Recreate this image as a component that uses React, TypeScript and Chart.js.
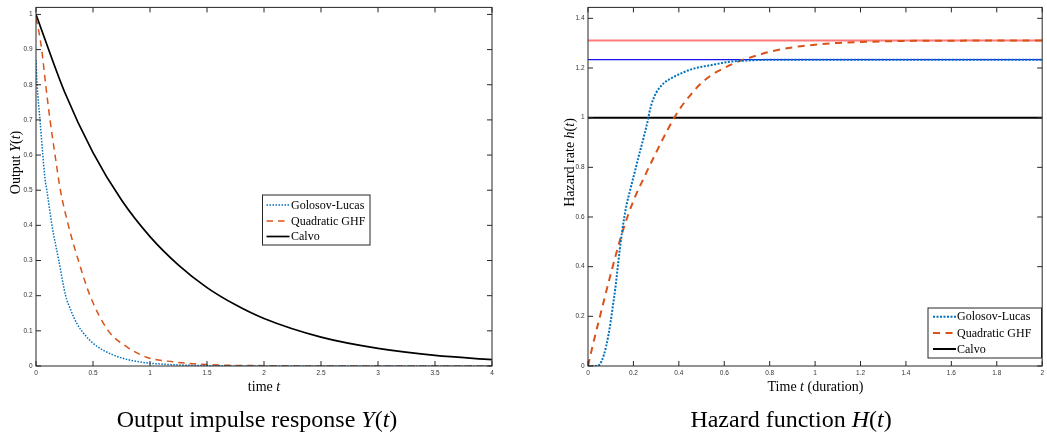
import React, { useEffect, useRef } from 'react';
import { Chart, registerables } from 'chart.js';
Chart.register(...registerables);

// ---------- DATA ----------
// Left panel: output impulse response Y(t)
const irTimeGL = [0, 0.01, 0.035, 0.06, 0.08, 0.095, 0.14, 0.2, 0.26, 0.3, 0.36, 0.43, 0.5, 0.6, 0.75, 0.9, 1.0, 1.25, 1.5, 2, 3, 4];
const irGL = [0.87, 0.8, 0.7, 0.6, 0.53, 0.5, 0.4, 0.3, 0.2, 0.163, 0.12, 0.088, 0.065, 0.043, 0.023, 0.012, 0.008, 0.003, 0.001, 0, 0, 0];
const irTimeGHF = [0, 0.02, 0.05, 0.085, 0.123, 0.167, 0.214, 0.284, 0.372, 0.474, 0.635, 0.8, 0.97, 1.2, 1.5, 2, 3, 4];
const irGHF = [0.99, 0.96, 0.9, 0.8, 0.7, 0.6, 0.5, 0.4, 0.3, 0.2, 0.1, 0.054, 0.025, 0.012, 0.004, 0.001, 0, 0];
const irTimeCalvo = [0, 0.25, 0.5, 0.75, 1, 1.25, 1.5, 1.75, 2, 2.5, 3, 3.5, 4];
const irCalvo = [1, 0.78, 0.607, 0.472, 0.368, 0.287, 0.223, 0.174, 0.135, 0.082, 0.05, 0.03, 0.018];

// Right panel: hazard rate h(t)
const hzTimeGL = [0, 0.04, 0.05, 0.06, 0.07, 0.08, 0.09, 0.1, 0.11, 0.12, 0.13, 0.14, 0.15, 0.16, 0.17, 0.186, 0.2, 0.222, 0.245, 0.266, 0.27, 0.28, 0.29, 0.3, 0.315, 0.335, 0.36, 0.39, 0.46, 0.55, 0.625, 0.7, 0.8, 1, 1.5, 2];
const hzGL = [0, 0, 0.005, 0.02, 0.045, 0.08, 0.125, 0.18, 0.245, 0.31, 0.39, 0.47, 0.54, 0.6, 0.65, 0.71, 0.76, 0.84, 0.92, 1.0, 1.02, 1.055, 1.08, 1.1, 1.12, 1.14, 1.155, 1.17, 1.196, 1.213, 1.225, 1.23, 1.233, 1.2336, 1.2336, 1.2336];
const hzTimeGHF = [0, 0.02, 0.05, 0.1, 0.15, 0.2, 0.25, 0.3, 0.35, 0.4, 0.45, 0.5, 0.55, 0.6, 0.65, 0.7, 0.8, 0.9, 1.0, 1.1, 1.25, 1.4, 1.6, 2];
const hzGHF = [0, 0.08, 0.19, 0.37, 0.535, 0.665, 0.765, 0.86, 0.95, 1.03, 1.09, 1.14, 1.175, 1.2, 1.222, 1.238, 1.265, 1.283, 1.294, 1.301, 1.306, 1.309, 1.31, 1.311];
const hzTimeCalvo = [0, 2];
const hzCalvo = [1, 1];
const hzLimitTime = [0, 2];
const hzLimitGHF = [1.311, 1.311];
const hzLimitGL = [1.2336, 1.2336];

// Ticks
const leftXTicks = [0, 0.5, 1, 1.5, 2, 2.5, 3, 3.5, 4];
const leftXTickLabels = ['0', '0.5', '1', '1.5', '2', '2.5', '3', '3.5', '4'];
const leftYTicks = [0, 0.1, 0.2, 0.3, 0.4, 0.5, 0.6, 0.7, 0.8, 0.9, 1];
const leftYTickLabels = ['0', '0.1', '0.2', '0.3', '0.4', '0.5', '0.6', '0.7', '0.8', '0.9', '1'];
const rightXTicks = [0, 0.2, 0.4, 0.6, 0.8, 1, 1.2, 1.4, 1.6, 1.8, 2];
const rightXTickLabels = ['0', '0.2', '0.4', '0.6', '0.8', '1', '1.2', '1.4', '1.6', '1.8', '2'];
const rightYTicks = [0, 0.2, 0.4, 0.6, 0.8, 1, 1.2, 1.4];
const rightYTickLabels = ['0', '0.2', '0.4', '0.6', '0.8', '1', '1.2', '1.4'];

const seriesNames = ['Golosov-Lucas', 'Quadratic GHF', 'Calvo'];

// ---------- STYLE ----------
const W = 1047;
const H = 435;
const BLUE = '#0072BD';
const ORANGE = '#D95319';
const BLACK = '#000000';
const AXIS = '#262626';
const SERIF = '"Liberation Serif", "Times New Roman", serif';
const SANS = '"Liberation Sans", Arial, sans-serif';

type Seg = [string, boolean];

function drawSegs(ctx: CanvasRenderingContext2D, segs: Seg[], size: number, cx: number, baseY: number) {
  let total = 0;
  const widths = segs.map(([t, it]) => {
    ctx.font = `${it ? 'italic ' : ''}${size}px ${SERIF}`;
    const w = ctx.measureText(t).width;
    total += w;
    return w;
  });
  let x = cx - total / 2;
  ctx.textAlign = 'left';
  ctx.textBaseline = 'alphabetic';
  segs.forEach(([t, it], i) => {
    ctx.font = `${it ? 'italic ' : ''}${size}px ${SERIF}`;
    ctx.fillText(t, x, baseY);
    x += widths[i];
  });
}

interface Deco {
  xTitle: Seg[];
  xTitleCx: number;
  yTitle: Seg[];
  yTitleX: number;
  yTitleCy: number;
  title: Seg[];
  titleCx: number;
  legend: { x: number; y: number; w: number; h: number; lx0: number; lx1: number; tx: number; rows: number[]; lw: number[]; dash: number[][] };
  tickLen: number;
}

function makeDecoPlugin(d: Deco) {
  return {
    id: 'deco',
    afterDatasetsDraw(chart: any) {
      const ctx: CanvasRenderingContext2D = chart.ctx;
      const a = chart.chartArea;
      const xs = chart.scales.x;
      const ys = chart.scales.y;
      ctx.save();
      // box
      ctx.strokeStyle = AXIS;
      ctx.lineWidth = 1;
      ctx.setLineDash([]);
      ctx.strokeRect(a.left, a.top, a.right - a.left, a.bottom - a.top);
      // inward ticks
      ctx.beginPath();
      xs.ticks.forEach((t: any) => {
        const px = xs.getPixelForValue(t.value);
        ctx.moveTo(px, a.bottom);
        ctx.lineTo(px, a.bottom - d.tickLen);
        ctx.moveTo(px, a.top);
        ctx.lineTo(px, a.top + d.tickLen);
      });
      ys.ticks.forEach((t: any) => {
        const py = ys.getPixelForValue(t.value);
        ctx.moveTo(a.left, py);
        ctx.lineTo(a.left + d.tickLen, py);
        ctx.moveTo(a.right, py);
        ctx.lineTo(a.right - d.tickLen, py);
      });
      ctx.stroke();

      // legend
      const L = d.legend;
      ctx.fillStyle = '#ffffff';
      ctx.fillRect(L.x, L.y, L.w, L.h);
      ctx.strokeStyle = AXIS;
      ctx.lineWidth = 1;
      ctx.strokeRect(L.x, L.y, L.w, L.h);
      const cols = [BLUE, ORANGE, BLACK];
      seriesNames.forEach((name, i) => {
        ctx.beginPath();
        ctx.strokeStyle = cols[i];
        ctx.lineWidth = L.lw[i];
        ctx.setLineDash(L.dash[i]);
        ctx.moveTo(L.lx0, L.rows[i]);
        ctx.lineTo(L.lx1, L.rows[i]);
        ctx.stroke();
        ctx.setLineDash([]);
        ctx.fillStyle = '#000';
        ctx.font = `12px ${SERIF}`;
        ctx.textAlign = 'left';
        ctx.textBaseline = 'middle';
        ctx.fillText(name, L.tx, L.rows[i] + 0.5);
      });

      // axis titles
      ctx.fillStyle = '#000';
      drawSegs(ctx, d.xTitle, 14, d.xTitleCx, 390.5);
      ctx.save();
      ctx.translate(d.yTitleX, d.yTitleCy);
      ctx.rotate(-Math.PI / 2);
      drawSegs(ctx, d.yTitle, 14, 0, 0);
      ctx.restore();
      // panel caption
      drawSegs(ctx, d.title, 24, d.titleCx, 426.5);
      ctx.restore();
    },
  };
}

const pts = (xs: number[], ys: number[]) => xs.map((x, i) => ({ x, y: ys[i] }));

function axisCfg(min: number, max: number, ticks: number[], labels: string[], isX: boolean, size: number) {
  return {
    type: 'linear',
    min,
    max,
    afterBuildTicks: (s: any) => {
      s.ticks = ticks.map((v) => ({ value: v }));
    },
    afterFit: (s: any) => {
      if (isX) s.height = size;
      else s.width = size;
    },
    ticks: {
      callback: (_v: any, i: number) => labels[i],
      font: { family: SANS, size: 6.5 },
      color: '#333',
      padding: isX ? 3 : 3.5,
      maxRotation: 0,
      autoSkip: false,
      includeBounds: false,
    },
    grid: { display: false, drawTicks: false },
    border: { display: false },
  };
}

const lineDs = (label: string, data: any[], color: string, width: number, dash: number[]) => ({
  label,
  data,
  borderColor: color,
  backgroundColor: color,
  borderWidth: width,
  borderDash: dash,
  pointRadius: 0,
  fill: false,
  cubicInterpolationMode: 'monotone',
});

export default function App() {
  const leftRef = useRef<HTMLCanvasElement>(null);
  const rightRef = useRef<HTMLCanvasElement>(null);

  useEffect(() => {
    const left = new Chart(leftRef.current as HTMLCanvasElement, {
      type: 'line',
      data: {
        datasets: [
          lineDs(seriesNames[0], pts(irTimeGL, irGL), BLUE, 1.5, [1.5, 1.5]),
          lineDs(seriesNames[1], pts(irTimeGHF, irGHF), ORANGE, 1.5, [6.5, 5]),
          lineDs(seriesNames[2], pts(irTimeCalvo, irCalvo), BLACK, 1.7, []),
        ] as any,
      },
      options: {
        responsive: false,
        animation: false,
        layout: { padding: { left: 0, right: W - 492, top: 5, bottom: 0 } },
        plugins: { legend: { display: false }, tooltip: { enabled: false }, title: { display: false } },
        scales: {
          x: axisCfg(0, 4, leftXTicks, leftXTickLabels, true, H - 366) as any,
          y: axisCfg(0, 1.02, leftYTicks, leftYTickLabels, false, 36) as any,
        },
      },
      plugins: [
        makeDecoPlugin({
          xTitle: [['time ', false], ['t', true]],
          xTitleCx: 264,
          yTitle: [['Output ', false], ['Y', true], ['(', false], ['t', true], [')', false]],
          yTitleX: 19.5,
          yTitleCy: 162.5,
          title: [['Output impulse response ', false], ['Y', true], ['(', false], ['t', true], [')', false]],
          titleCx: 257,
          legend: { x: 262.5, y: 195, w: 107.5, h: 50, lx0: 266.5, lx1: 289.5, tx: 291, rows: [205, 221, 236.5], lw: [1.5, 1.5, 1.7], dash: [[1.5, 1.5], [6.5, 5], []] },
          tickLen: 5,
        }),
      ],
    });

    const right = new Chart(rightRef.current as HTMLCanvasElement, {
      type: 'line',
      data: {
        datasets: [
          lineDs(seriesNames[0], pts(hzTimeGL, hzGL), BLUE, 2, [2, 1.5]),
          lineDs(seriesNames[1], pts(hzTimeGHF, hzGHF), ORANGE, 2, [7, 5.5]),
          lineDs(seriesNames[2], pts(hzTimeCalvo, hzCalvo), BLACK, 2, []),
          lineDs('GHF limit', pts(hzLimitTime, hzLimitGHF), '#FF7A7A', 2, []),
          lineDs('GL limit', pts(hzLimitTime, hzLimitGL), '#1414F0', 1.2, []),
        ] as any,
      },
      options: {
        responsive: false,
        animation: false,
        layout: { padding: { left: 547, right: W - 1043, top: 5, bottom: 0 } },
        plugins: { legend: { display: false }, tooltip: { enabled: false }, title: { display: false } },
        scales: {
          x: axisCfg(0, 2, rightXTicks, rightXTickLabels, true, H - 366) as any,
          y: axisCfg(0, 1.444, rightYTicks, rightYTickLabels, false, 588 - 547) as any,
        },
      },
      plugins: [
        makeDecoPlugin({
          xTitle: [['Time ', false], ['t', true], [' (duration)', false]],
          xTitleCx: 815.5,
          yTitle: [['Hazard rate ', false], ['h', true], ['(', false], ['t', true], [')', false]],
          yTitleX: 574,
          yTitleCy: 162.5,
          title: [['Hazard function ', false], ['H', true], ['(', false], ['t', true], [')', false]],
          titleCx: 791,
          legend: { x: 928, y: 308, w: 113.5, h: 50, lx0: 933, lx1: 956, tx: 957, rows: [316.7, 333, 349], lw: [2, 2, 2], dash: [[2, 1.5], [7, 5.5], []] },
          tickLen: 5,
        }),
      ],
    });

    return () => {
      left.destroy();
      right.destroy();
    };
  }, []);

  const cs: React.CSSProperties = { position: 'absolute', left: 0, top: 0, width: W, height: H };
  return (
    <div style={{ position: 'fixed', left: 0, top: 0, width: W, height: H, background: '#fff' }}>
      <canvas ref={leftRef} width={W} height={H} style={cs} />
      <canvas ref={rightRef} width={W} height={H} style={cs} />
    </div>
  );
}
